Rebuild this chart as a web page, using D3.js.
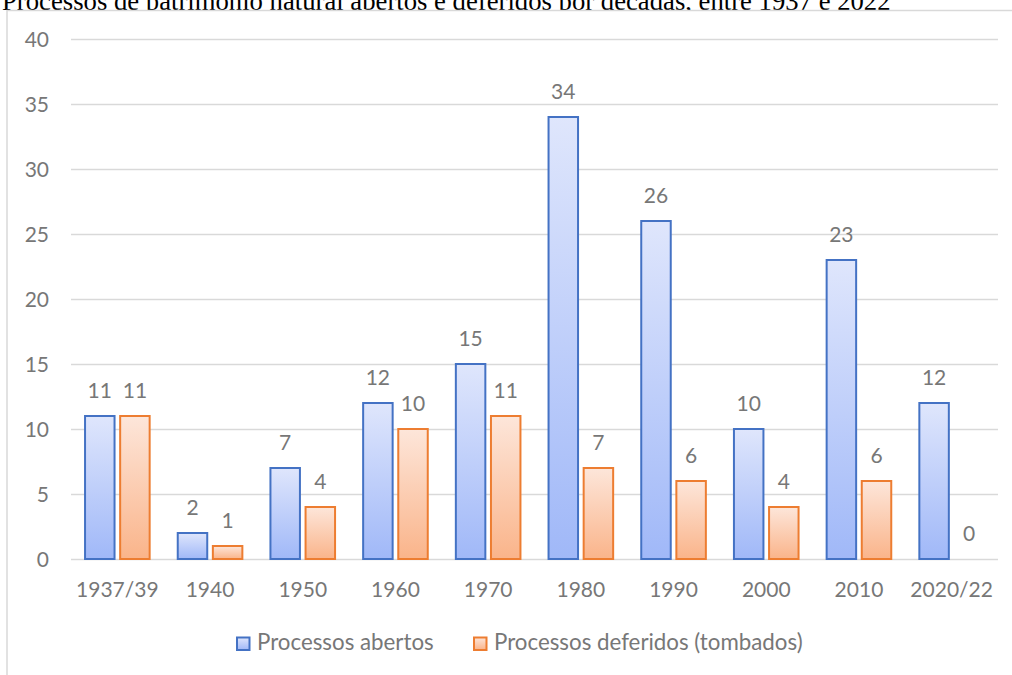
<!DOCTYPE html>
<html>
<head>
<meta charset="utf-8">
<script src="https://cdn.jsdelivr.net/npm/d3@7"></script>
<style>
  html, body { margin: 0; padding: 0; background: #ffffff; }
  svg { display: block; }
</style>
</head>
<body>
<svg id="chart" width="1012" height="675"></svg>
<script>
// Decades and counts of natural heritage processes
const decades = ["1937/39", "1940", "1950", "1960", "1970", "1980", "1990", "2000", "2010", "2020/22"];
const abertos = [11, 2, 7, 12, 15, 34, 26, 10, 23, 12];
const deferidos = [11, 1, 4, 10, 11, 7, 6, 4, 6, 0];
const seriesNames = ["Processos abertos", "Processos deferidos (tombados)"];
const yTicks = [0, 5, 10, 15, 20, 25, 30, 35, 40];
const title = "Processos de patrimônio natural abertos e deferidos por décadas, entre 1937 e 2022";

const labelFont = "Lato, 'Open Sans', sans-serif";
const textGray = "#777777";
const gridGray = "#d9d9d9";

const svg = d3.select("#chart");

// Title sits behind the chart frame, which hides its lower part
svg.append("text")
  .attr("x", 2)
  .attr("y", 9.5)
  .attr("font-family", "'Liberation Serif', 'Times New Roman', serif")
  .attr("font-size", 26.7)
  .attr("fill", "#000")
  .text(title);

// Chart frame
svg.append("rect")
  .attr("x", 7)
  .attr("y", 10.5)
  .attr("width", 1100)
  .attr("height", 800)
  .attr("fill", "#fff")
  .attr("stroke", gridGray)
  .attr("stroke-width", 1.5);

// Gradients for the two series
const defs = svg.append("defs");
const gradients = [
  { id: "gradBlue", top: "#dfe6fc", bottom: "#a0b8f8" },
  { id: "gradOrange", top: "#fde6da", bottom: "#fab48a" }
];
gradients.forEach(g => {
  const lg = defs.append("linearGradient")
    .attr("id", g.id)
    .attr("x1", 0).attr("y1", 0)
    .attr("x2", 0).attr("y2", 1);
  lg.append("stop").attr("offset", "0%").attr("stop-color", g.top);
  lg.append("stop").attr("offset", "100%").attr("stop-color", g.bottom);
});
const strokes = ["#4472c4", "#ed7d31"];

const plot = { left: 71, right: 998, top: 39, bottom: 559 };

const x0 = d3.scaleBand()
  .domain(decades)
  .range([plot.left, plot.right])
  .paddingInner(0.303)
  .paddingOuter(0.1515);

const x1 = d3.scaleBand()
  .domain([0, 1])
  .range([0, x0.bandwidth()])
  .paddingInner(0.16)
  .paddingOuter(0);

const y = d3.scaleLinear()
  .domain([0, 40])
  .range([plot.bottom, plot.top]);

// Horizontal gridlines
svg.append("g")
  .selectAll("line")
  .data(yTicks)
  .join("line")
  .attr("x1", plot.left)
  .attr("x2", plot.right)
  .attr("y1", d => Math.round(y(d)) + 0.5)
  .attr("y2", d => Math.round(y(d)) + 0.5)
  .attr("stroke", gridGray)
  .attr("stroke-width", 1.5);

// Y axis labels
const yAxis = svg.append("g")
  .attr("transform", `translate(${plot.left - 22},0)`)
  .call(d3.axisLeft(y).tickValues(yTicks).tickSize(0).tickPadding(0));
yAxis.select(".domain").remove();
yAxis.selectAll("text")
  .attr("font-family", labelFont)
  .attr("font-size", 21)
  .attr("fill", textGray)
  .attr("dy", "0.36em");

// X axis labels
const xAxis = svg.append("g")
  .attr("transform", `translate(0,${plot.bottom})`)
  .call(d3.axisBottom(x0).tickSize(0).tickPadding(0));
xAxis.select(".domain").remove();
xAxis.selectAll("text")
  .attr("font-family", labelFont)
  .attr("font-size", 21)
  .attr("fill", textGray)
  .attr("dy", 0)
  .attr("y", 38);

// Bars grouped per decade
const rows = decades.map((d, i) => ({ decade: d, values: [abertos[i], deferidos[i]] }));

const groups = svg.append("g")
  .selectAll("g")
  .data(rows)
  .join("g")
  .attr("transform", d => `translate(${x0(d.decade)},0)`);

groups.selectAll("rect")
  .data(d => d.values.map((v, s) => ({ v, s })).filter(e => e.v > 0))
  .join("rect")
  .attr("x", d => x1(d.s))
  .attr("y", d => y(d.v))
  .attr("width", x1.bandwidth())
  .attr("height", d => y(0) - y(d.v))
  .attr("fill", d => `url(#${gradients[d.s].id})`)
  .attr("stroke", d => strokes[d.s])
  .attr("stroke-width", 2);

// Value labels
groups.selectAll("text")
  .data(d => d.values.map((v, s) => ({ v, s })))
  .join("text")
  .attr("x", d => x1(d.s) + x1.bandwidth() / 2)
  .attr("y", d => y(d.v) - 18)
  .attr("text-anchor", "middle")
  .attr("font-family", labelFont)
  .attr("font-size", 21)
  .attr("fill", textGray)
  .text(d => d.v);

// Legend
const legendItems = [
  { name: seriesNames[0], x: 237, s: 0 },
  { name: seriesNames[1], x: 474, s: 1 }
];
const legend = svg.append("g");
legendItems.forEach(item => {
  legend.append("rect")
    .attr("x", item.x)
    .attr("y", 637.5)
    .attr("width", 12.5)
    .attr("height", 12.5)
    .attr("fill", `url(#${gradients[item.s].id})`)
    .attr("stroke", strokes[item.s])
    .attr("stroke-width", 2);
  legend.append("text")
    .attr("x", item.x + 20)
    .attr("y", 650)
    .attr("font-family", labelFont)
    .attr("font-size", 22.3)
    .attr("fill", textGray)
    .text(item.name);
});
</script>
</body>
</html>
